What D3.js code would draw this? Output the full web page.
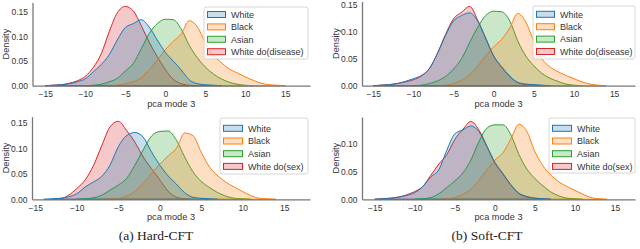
<!DOCTYPE html>
<html>
<head>
<meta charset="utf-8">
<script src="https://cdn.jsdelivr.net/npm/d3@7"></script>
<style>
  body { margin: 0; background: #fff; }
  svg { display: block; }
  text { font-family: Arial, "Liberation Sans", sans-serif; fill: #333; }
</style>
</head>
<body>
<script>
// x positions where the densities were read (pca mode 3)
var xGrid = [-15,-14,-13,-12,-11,-10,-9,-8,-7,-6,-5,-4,-3,-2,-1,0,1,2,3,4,5,6,7,8,9,10,11,12,13,14,15,16];

var groupNames = ["White", "Black", "Asian"];
var colors = ["#1f77b4", "#ff7f0e", "#2ca02c", "#d62728"];
var xTicks = [-15, -10, -5, 0, 5, 10, 15];
var yTicks = [0, 0.05, 0.10, 0.15];
var captions = ["(a) Hard-CFT", "(b) Soft-CFT"];

// (a) Hard-CFT, do(disease)
var hardDiseaseWhite = [0,0.001,0.002,0.004,0.008,0.014,0.028,0.043,0.063,0.093,0.118,0.126,0.134,0.119,0.093,0.068,0.05,0.032,0.012,0.004,0.002,0.001,0,0,0,0,0,0,0,0,0,0];
var hardDiseaseBlack = [0,0,0,0,0,0,0,0,0,0.001,0.004,0.008,0.016,0.033,0.052,0.073,0.09,0.105,0.132,0.12,0.088,0.062,0.047,0.034,0.026,0.018,0.011,0.005,0.002,0.001,0,0];
var hardDiseaseAsian = [0,0,0,0,0,0,0.001,0.003,0.008,0.015,0.03,0.045,0.075,0.106,0.126,0.135,0.134,0.115,0.082,0.057,0.038,0.024,0.014,0.007,0.003,0.001,0,0,0,0,0,0];
var hardDiseaseDo    = [0,0.001,0.002,0.005,0.01,0.019,0.037,0.065,0.11,0.148,0.161,0.152,0.122,0.088,0.059,0.033,0.013,0.004,0.001,0,0,0,0,0,0,0,0,0,0,0,0,0];

// (b) Soft-CFT, do(disease)
var softDiseaseWhite = [0,0.001,0.002,0.004,0.008,0.013,0.019,0.032,0.06,0.093,0.12,0.13,0.135,0.12,0.088,0.055,0.035,0.018,0.006,0.003,0.002,0.001,0,0,0,0,0,0,0,0,0,0];
var softDiseaseBlack = [0,0,0,0,0,0,0,0,0,0.001,0.004,0.01,0.02,0.036,0.055,0.072,0.086,0.107,0.134,0.118,0.082,0.05,0.035,0.026,0.019,0.013,0.007,0.003,0.001,0,0,0];
var softDiseaseAsian = [0,0,0,0,0,0,0.001,0.004,0.009,0.017,0.031,0.05,0.08,0.108,0.13,0.138,0.137,0.12,0.083,0.055,0.037,0.023,0.014,0.008,0.003,0.001,0,0,0,0,0,0];
var softDiseaseDo    = [0,0.001,0.002,0.004,0.007,0.011,0.018,0.032,0.06,0.095,0.124,0.136,0.147,0.122,0.088,0.055,0.034,0.017,0.006,0.002,0.001,0,0,0,0,0,0,0,0,0,0,0];

// (a) Hard-CFT, do(sex)
var hardSexWhite = [0,0,0.001,0.002,0.005,0.011,0.024,0.034,0.045,0.067,0.103,0.125,0.131,0.122,0.093,0.067,0.046,0.03,0.013,0.004,0.002,0.001,0,0,0,0,0,0,0,0,0,0];
var hardSexBlack = [0,0,0,0,0,0,0,0,0,0.001,0.002,0.006,0.015,0.031,0.05,0.069,0.085,0.1,0.13,0.125,0.092,0.063,0.046,0.033,0.024,0.015,0.007,0.002,0.001,0,0,0];
var hardSexAsian = [0,0,0,0,0,0,0.001,0.003,0.008,0.018,0.028,0.041,0.067,0.097,0.124,0.133,0.134,0.116,0.083,0.054,0.035,0.023,0.013,0.006,0.002,0.001,0,0,0,0,0,0];
var hardSexDo    = [0,0,0,0.001,0.008,0.021,0.038,0.066,0.105,0.142,0.153,0.135,0.112,0.083,0.06,0.038,0.016,0.004,0.001,0,0,0,0,0,0,0,0,0,0,0,0,0];

// (b) Soft-CFT, do(sex)
var softSexWhite = [0,0.001,0.002,0.004,0.007,0.012,0.023,0.04,0.053,0.088,0.117,0.124,0.131,0.121,0.094,0.066,0.046,0.026,0.011,0.005,0.002,0.001,0,0,0,0,0,0,0,0,0,0];
var softSexBlack = [0,0,0,0,0,0,0,0,0,0.001,0.003,0.009,0.018,0.034,0.052,0.07,0.083,0.108,0.134,0.121,0.085,0.06,0.043,0.031,0.023,0.016,0.009,0.003,0.001,0,0,0];
var softSexAsian = [0,0,0,0,0,0,0.001,0.003,0.01,0.021,0.033,0.047,0.07,0.103,0.127,0.133,0.133,0.115,0.08,0.054,0.037,0.024,0.013,0.006,0.002,0.001,0,0,0,0,0,0];
var softSexDo    = [0,0.001,0.002,0.004,0.008,0.014,0.023,0.043,0.063,0.08,0.107,0.125,0.139,0.124,0.095,0.065,0.045,0.025,0.01,0.004,0.002,0.001,0,0,0,0,0,0,0,0,0,0];

var panels = [
  { doLabel: "White do(disease)", series: [hardDiseaseWhite, hardDiseaseBlack, hardDiseaseAsian, hardDiseaseDo],
    left: 32.5, right: 310, top: 2.5, bottom: 85.7, xDomain: [-16.6, 18.1], yMax: 0.169,
    legend: { x: 204, y: 7, w: 104, h: 52, row0: 14.5, step: 12.4, patchW: 18 } },
  { doLabel: "White do(disease)", series: [softDiseaseWhite, softDiseaseBlack, softDiseaseAsian, softDiseaseDo],
    left: 362, right: 635, top: 1.5, bottom: 85.7, xDomain: [-16.4, 17.6], yMax: 0.156,
    legend: { x: 533, y: 6, w: 102, h: 53, row0: 14.3, step: 12.4, patchW: 18 } },
  { doLabel: "White do(sex)", series: [hardSexWhite, hardSexBlack, hardSexAsian, hardSexDo],
    left: 32, right: 310, top: 116.7, bottom: 199.3, xDomain: [-15.4, 18.1], yMax: 0.162,
    legend: { x: 220, y: 118, w: 88, h: 56, row0: 128.3, step: 12.7, patchW: 19 } },
  { doLabel: "White do(sex)", series: [softSexWhite, softSexBlack, softSexAsian, softSexDo],
    left: 362, right: 635, top: 117, bottom: 199.3, xDomain: [-16.6, 17.5], yMax: 0.147,
    legend: { x: 549, y: 118, w: 86, h: 55, row0: 128.3, step: 12.7, patchW: 19 } }
];

var svg = d3.select("body").append("svg")
  .attr("width", 640)
  .attr("height", 249);

function trimmed(vals) {
  var first = vals.findIndex(function (v) { return v > 0; });
  var last = vals.length - 1;
  while (last > 0 && vals[last] === 0) last--;
  var pts = xGrid.map(function (g, i) { return [g, vals[i]]; });
  return pts.slice(Math.max(0, first - 1), Math.min(vals.length, last + 2));
}

panels.forEach(function (p) {
  var x = d3.scaleLinear().domain(p.xDomain).range([p.left, p.right]);
  var y = d3.scaleLinear().domain([0, p.yMax]).range([p.bottom, p.top]);

  var area = d3.area()
    .x(function (d) { return x(d[0]); })
    .y0(y(0))
    .y1(function (d) { return y(d[1]); })
    .curve(d3.curveMonotoneX);

  var g = svg.append("g");

  // seaborn draws hue levels in reverse order
  [3, 2, 1, 0].forEach(function (k) {
    g.append("path")
      .attr("d", area(trimmed(p.series[k])))
      .attr("fill", colors[k])
      .attr("fill-opacity", 0.25)
      .attr("stroke", colors[k])
      .attr("stroke-width", 1)
      .attr("stroke-linejoin", "round");
  });

  var xAxis = d3.axisBottom(x).tickValues(xTicks).tickSize(0).tickSizeOuter(0).tickPadding(5.5);
  var yAxis = d3.axisLeft(y)
    .tickValues(yTicks.filter(function (t) { return t <= p.yMax; }))
    .tickFormat(d3.format(".2f")).tickSize(0).tickSizeOuter(0).tickPadding(4.5);

  var gx = g.append("g").attr("transform", "translate(0," + p.bottom + ")").call(xAxis);
  var gy = g.append("g").attr("transform", "translate(" + p.left + ",0)").call(yAxis);
  [gx, gy].forEach(function (a) {
    a.select(".domain").attr("stroke", "#777").attr("stroke-width", 1.3);
    a.selectAll("text").attr("fill", "#333").style("font-size", "8.5px").attr("font-family", null);
  });

  g.append("text")
    .attr("x", (p.left + p.right) / 2)
    .attr("y", p.bottom + 21)
    .attr("text-anchor", "middle")
    .style("font-size", "9.2px")
    .text("pca mode 3");

  g.append("text")
    .attr("transform", "translate(" + (p.left - 23.5) + "," + ((p.top + p.bottom) / 2) + ") rotate(-90)")
    .attr("text-anchor", "middle")
    .style("font-size", "9.2px")
    .text("Density");

  // legend
  var L = p.legend;
  var lg = g.append("g");
  lg.append("rect")
    .attr("x", L.x).attr("y", L.y).attr("width", L.w).attr("height", L.h)
    .attr("rx", 2)
    .attr("fill", "#fff").attr("fill-opacity", 0.8)
    .attr("stroke", "#ccc").attr("stroke-width", 0.8);
  var labels = groupNames.concat([p.doLabel]);
  labels.forEach(function (name, k) {
    var cy = L.row0 + k * L.step;
    lg.append("rect")
      .attr("x", L.x + 3.5).attr("y", cy - 3)
      .attr("width", L.patchW).attr("height", 6)
      .attr("fill", colors[k]).attr("fill-opacity", 0.25)
      .attr("stroke", colors[k]).attr("stroke-width", 1);
    lg.append("text")
      .attr("x", L.x + 3.5 + L.patchW + 5.5)
      .attr("y", cy + 3.3)
      .style("font-size", "9px")
      .text(name);
  });
});

// sub-figure captions
svg.selectAll("text.caption")
  .data(captions)
  .enter().append("text")
  .attr("class", "caption")
  .attr("x", function (d, i) { return i === 0 ? 156 : 487; })
  .attr("y", 240)
  .attr("text-anchor", "middle")
  .style("font-family", "'Liberation Serif', 'DejaVu Serif', serif")
  .style("font-size", "13.5px")
  .style("fill", "#222")
  .text(function (d) { return d; });
</script>
</body>
</html>
